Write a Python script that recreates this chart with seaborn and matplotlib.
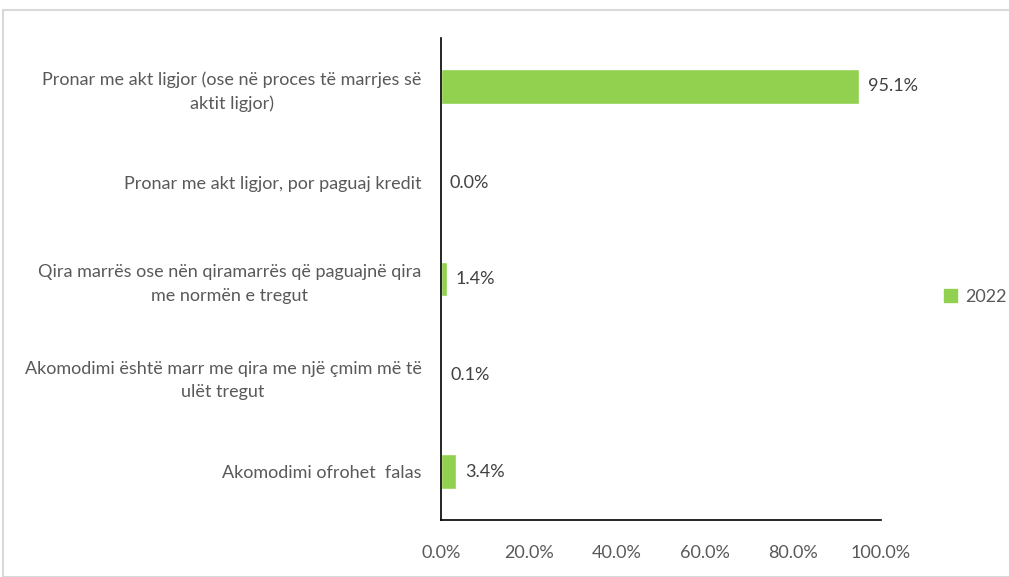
import matplotlib.pyplot as plt
import matplotlib.patches as mpatches
import numpy as np
import pandas as pd
import seaborn as sns

categories = [
    "Pronar me akt ligjor (ose në proces të marrjes së\naktit ligjor)",
    "Pronar me akt ligjor, por paguaj kredit",
    "Qira marrës ose nën qiramarrës që paguajnë qira\nme normën e tregut",
    "Akomodimi është marr me qira me një çmim më të\nulët tregut",
    "Akomodimi ofrohet  falas",
]
values = [95.1, 0.0, 1.4, 0.1, 3.4]
series_name = "2022"
ticks = [0, 20, 40, 60, 80, 100]

green = "#92D050"
grey = "#595959"

sns.set_theme(style="white")
plt.rcParams["font.family"] = ["Lato", "DejaVu Sans"]
fs = 13

df = pd.DataFrame({"category": categories, "value": values})

fig = plt.figure(figsize=(10.09, 5.77), dpi=100)
ax = fig.add_axes([441 / 1009, 1 - 520 / 577, 440 / 1009, 482 / 577])

sns.barplot(data=df, x="value", y="category", color=green, width=0.36,
            saturation=1, ax=ax)

for i, v in enumerate(values):
    ax.text(v + 2.0, i, f"{v:.1f}%", va="center", ha="left",
            fontsize=fs, color="#404040")

ax.set_xlim(0, 100)
ax.set_ylim(4.5, -0.5)
ax.set_xticks(ticks)
ax.set_xticklabels([f"{t:.1f}%" for t in ticks])
ax.tick_params(axis="x", length=0, pad=18, labelsize=fs, labelcolor=grey)
ax.tick_params(axis="y", length=0, pad=14, labelsize=fs, labelcolor=grey)
for lab in ax.get_yticklabels():
    lab.set_horizontalalignment("right")
    lab.set_multialignment("center")
    lab.set_linespacing(1.55)
ax.set_xlabel("")
ax.set_ylabel("")

for s in ["top", "right"]:
    ax.spines[s].set_visible(False)
for s in ["left", "bottom"]:
    ax.spines[s].set_color("black")
    ax.spines[s].set_linewidth(1.2)

handle = mpatches.Patch(color=green, label=series_name)
fig.legend(handles=[handle], loc="center left", bbox_to_anchor=(944 / 1009, 1 - 297 / 577),
           frameon=False, fontsize=fs, labelcolor=grey, handlelength=0.7,
           handleheight=0.7, handletextpad=0.5, borderpad=0, borderaxespad=0)

border = mpatches.Rectangle((3 / 1009, 0), 1.0, 1 - 10 / 577, transform=fig.transFigure,
                            fill=False, edgecolor="#D9D9D9", linewidth=1.5)
fig.add_artist(border)

fig.savefig("out.png", dpi=100)
